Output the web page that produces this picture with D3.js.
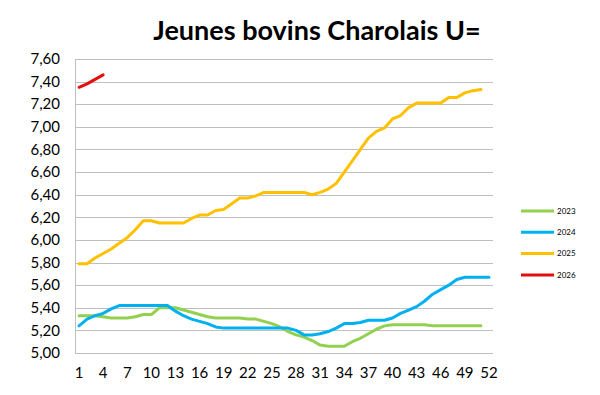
<!DOCTYPE html>
<html>
<head>
<meta charset="utf-8">
<script src="https://d3js.org/d3.v7.min.js"></script>
<style>
    body { margin: 0; background: #fff; }
    text { font-family: Lato, "Open Sans", sans-serif; fill: #000; }
    .grid line { stroke: #bfbfbf; stroke-width: 1px; }
    .series { fill: none; stroke-width: 3px; stroke-linejoin: round; stroke-linecap: round; }
</style>
</head>
<body>
<svg id="chart" width="600" height="395"></svg>
<script>
    // weekly prices (euro/kg)
    const weeks = d3.range(1, 53);
    const yearNames = ['2023', '2024', '2025', '2026'];
    const colors = ['#92d050', '#00b0f0', '#ffc000', '#e30e0e'];

    const v2023 = [5.33, 5.33, 5.33, 5.32, 5.31, 5.31, 5.31, 5.32, 5.34, 5.34,
                   5.40, 5.40, 5.40, 5.38, 5.36, 5.34, 5.32, 5.31, 5.31, 5.31,
                   5.31, 5.30, 5.30, 5.28, 5.26, 5.23, 5.19, 5.16, 5.14, 5.11,
                   5.07, 5.06, 5.06, 5.06, 5.10, 5.13, 5.17, 5.21, 5.24, 5.25,
                   5.25, 5.25, 5.25, 5.25, 5.24, 5.24, 5.24, 5.24, 5.24, 5.24, 5.24];
    const v2024 = [5.24, 5.30, 5.33, 5.35, 5.39, 5.42, 5.42, 5.42, 5.42, 5.42,
                   5.42, 5.42, 5.37, 5.33, 5.30, 5.28, 5.26, 5.23, 5.22, 5.22,
                   5.22, 5.22, 5.22, 5.22, 5.22, 5.22, 5.22, 5.20, 5.16, 5.16,
                   5.17, 5.19, 5.22, 5.26, 5.26, 5.27, 5.29, 5.29, 5.29, 5.31,
                   5.35, 5.38, 5.41, 5.46, 5.52, 5.56, 5.60, 5.65, 5.67, 5.67, 5.67, 5.67];
    const v2025 = [5.79, 5.79, 5.84, 5.88, 5.92, 5.97, 6.02, 6.09, 6.17, 6.17,
                   6.15, 6.15, 6.15, 6.15, 6.19, 6.22, 6.22, 6.26, 6.27, 6.32,
                   6.37, 6.37, 6.39, 6.42, 6.42, 6.42, 6.42, 6.42, 6.42, 6.40,
                   6.42, 6.45, 6.50, 6.60, 6.70, 6.80, 6.90, 6.96, 6.99, 7.07,
                   7.10, 7.17, 7.21, 7.21, 7.21, 7.21, 7.26, 7.26, 7.30, 7.32, 7.33];
    const v2026 = [7.35, 7.38, 7.42, 7.46];

    const yTicks = d3.range(5.0, 7.61, 0.2);
    const xTicks = d3.range(1, 53, 3);

    const svg = d3.select('#chart');
    const margin = { left: 75, right: 107, top: 59, bottom: 42 };
    const plotW = 600 - margin.left - margin.right;
    const plotH = 395 - margin.top - margin.bottom;
    const plot = svg.append('g').attr('transform', `translate(${margin.left}, ${margin.top})`);

    const x = d3.scaleBand().domain(weeks).range([0, plotW]);
    const y = d3.scaleLinear().domain([5.0, 7.6]).range([plotH, 0]);

    // title
    svg.append('text')
        .attr('x', 317).attr('y', 40)
        .attr('text-anchor', 'middle')
        .style('font-size', '27px').style('font-weight', 'bold')
        .text('Jeunes bovins Charolais U=');

    // horizontal grid
    plot.append('g').attr('class', 'grid')
        .selectAll('line').data(yTicks).join('line')
        .attr('x1', 0).attr('x2', plotW)
        .attr('y1', d => Math.round(y(d)) + 0.5).attr('y2', d => Math.round(y(d)) + 0.5);

    // left axis line
    plot.append('line')
        .attr('x1', 0.5).attr('x2', 0.5).attr('y1', 0).attr('y2', plotH)
        .attr('stroke', '#bfbfbf');

    // y labels
    const fmt = d => d3.format('.2f')(d).replace('.', ',');
    plot.append('g').selectAll('text').data(yTicks).join('text')
        .attr('x', -15).attr('y', d => y(d))
        .attr('dy', '0.35em').attr('text-anchor', 'end')
        .style('font-size', '15px')
        .text(fmt);

    // x labels
    plot.append('g').selectAll('text').data(xTicks).join('text')
        .attr('x', d => x(d) + x.bandwidth() / 2).attr('y', plotH + 20)
        .attr('dy', '0.35em').attr('text-anchor', 'middle')
        .style('font-size', '15px')
        .text(d => d);

    // lines
    const series = [v2023, v2024, v2025, v2026];
    const line = d3.line()
        .x((d, i) => x(weeks[i]) + x.bandwidth() / 2)
        .y(d => y(d));

    plot.selectAll('path.series').data(series).join('path')
        .attr('class', 'series')
        .attr('stroke', (d, i) => colors[i])
        .attr('d', line);

    // legend
    const legend = svg.append('g').attr('transform', 'translate(521, 211)');
    const items = legend.selectAll('g').data(yearNames).join('g')
        .attr('transform', (d, i) => `translate(0, ${i * 21.3})`);
    items.append('line')
        .attr('x1', 0).attr('x2', 33)
        .attr('stroke', (d, i) => colors[i])
        .attr('stroke-width', 3);
    items.append('text')
        .attr('x', 36).attr('dy', '0.35em')
        .style('font-size', '8px')
        .text(d => d);
</script>
</body>
</html>
